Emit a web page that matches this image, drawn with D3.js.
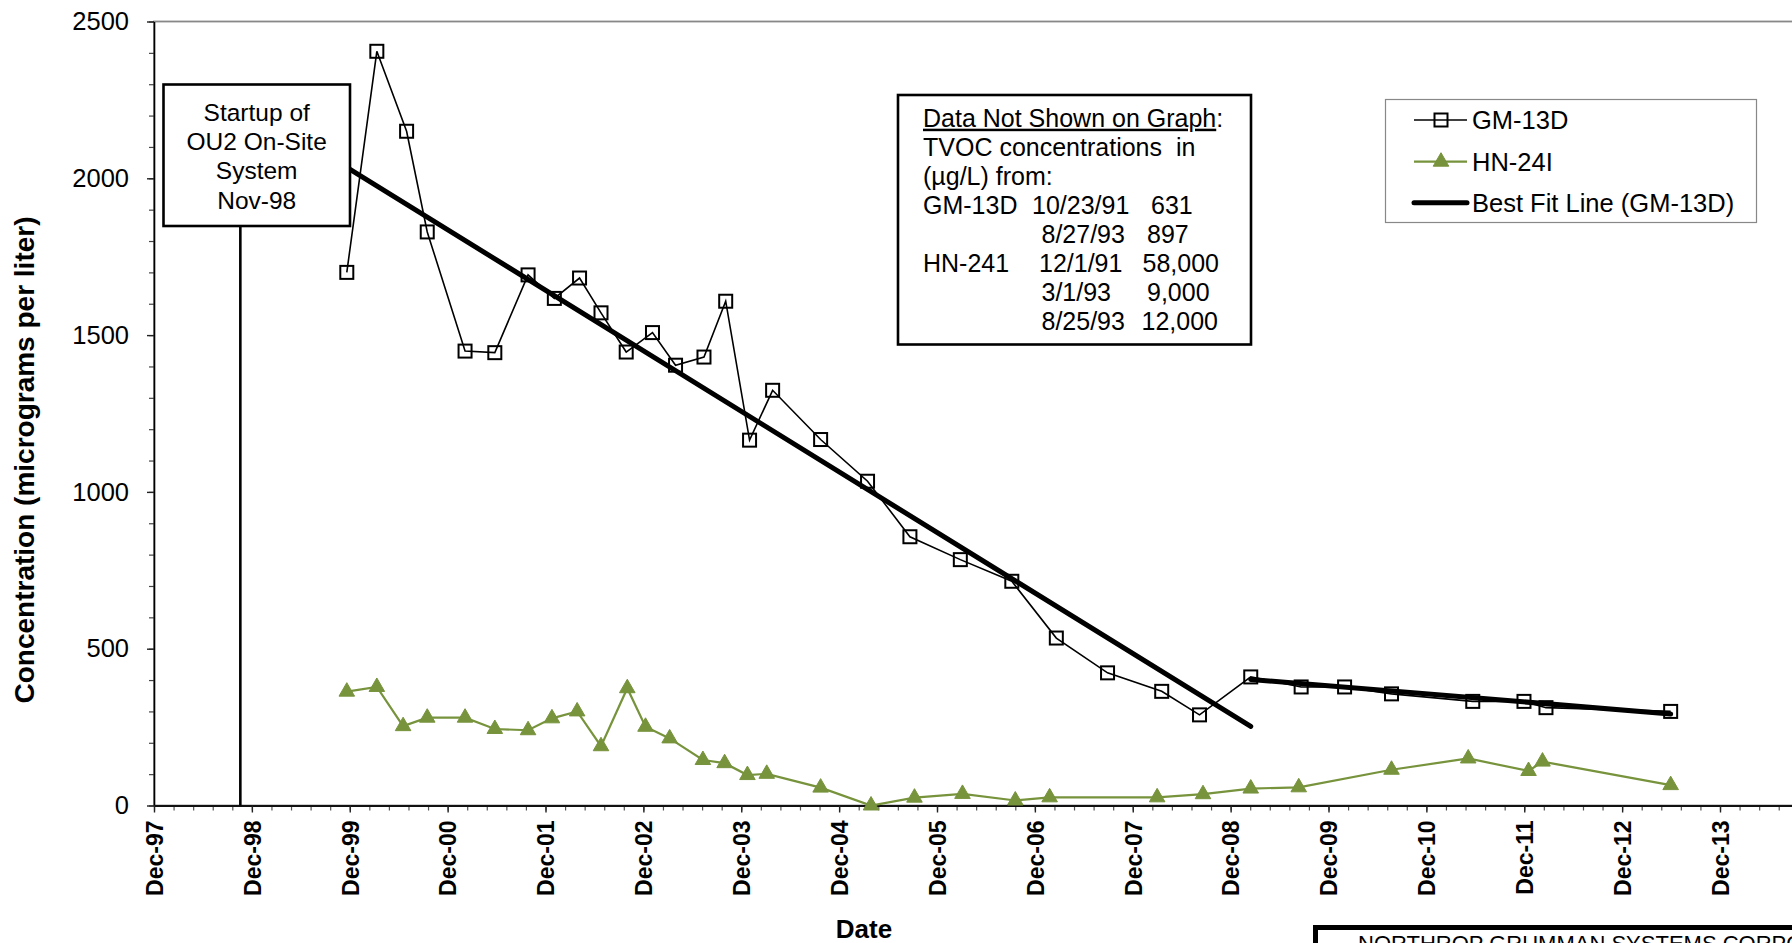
<!DOCTYPE html>
<html>
<head>
<meta charset="utf-8">
<script src="https://cdn.jsdelivr.net/npm/d3@7"></script>
<style>
  html, body { margin: 0; padding: 0; background: #fff; }
  svg { display: block; font-family: "Liberation Sans", Arial, sans-serif; }
</style>
</head>
<body>
<svg id="chart" width="1792" height="943"></svg>
<script>
// GM-13D sampling dates and TVOC concentrations (µg/L)
const gmDates = ["1999-12-04","2000-03-25","2000-07-14","2000-09-29","2001-02-17","2001-06-08","2001-10-10","2002-01-16","2002-04-20","2002-07-09","2002-10-11","2003-01-17","2003-04-13","2003-07-28","2003-10-17","2004-01-14","2004-04-09","2004-10-05","2005-03-29","2005-09-03","2006-03-10","2006-09-18","2007-03-03","2007-09-10","2008-03-30","2008-08-18","2009-02-25","2009-09-01","2010-02-10","2010-08-04","2011-06-03","2011-12-11","2012-03-02","2013-06-10"];
const gmValues = [1700, 2405, 2150, 1829, 1449, 1444, 1692, 1617, 1682, 1571, 1446, 1508, 1404, 1430, 1608, 1165, 1324, 1167, 1034, 857, 784, 715, 534, 423, 364, 289, 410, 378, 378, 356, 332, 332, 312, 300];

// HN-24I sampling dates and TVOC concentrations (µg/L)
const hnDates = ["1999-12-04","2000-03-25","2000-07-01","2000-09-29","2001-02-17","2001-06-08","2001-10-10","2002-01-07","2002-04-11","2002-07-09","2002-10-15","2002-12-22","2003-03-22","2003-07-24","2003-10-13","2004-01-06","2004-03-18","2004-10-05","2005-04-11","2005-09-20","2006-03-18","2006-10-01","2007-02-06","2008-03-13","2008-08-31","2009-02-25","2009-08-23","2010-08-04","2011-05-17","2011-12-28","2012-02-18","2013-06-10"];
const hnValues = [363, 378, 253, 280, 280, 244, 240, 278, 300, 189, 374, 251, 214, 145, 135, 97, 101, 57, 0, 25, 37, 16, 26, 26, 36, 54, 58, 114, 150, 110, 140, 65];

// Best-fit lines for GM-13D (two periods)
const fitADates = ["1999-12-04", "2009-02-25"];
const fitAValues = [2035, 252];
const fitBDates = ["2009-02-25", "2013-06-10"];
const fitBValues = [402, 292];

// Start-up of the OU2 on-site system
const startupDate = "1998-11-02";

// Axis ticks
const yMajorTicks = [0, 500, 1000, 1500, 2000, 2500];
const axisStart = "1997-12-15";
const majorStepDays = 365;
const minorStepDays = 73;
const majorTickCount = 17;

// Note box lines: [left column, date, value]
const noteRows = [
  ["GM-13D", "10/23/91", "631"],
  ["", "8/27/93", "897"],
  ["HN-241", "12/1/91", "58,000"],
  ["", "3/1/93", "9,000"],
  ["", "8/25/93", "12,000"]
];

const legendLabels = ["GM-13D", "HN-24I", "Best Fit Line (GM-13D)"];

const parse = d3.timeParse("%Y-%m-%d");
const green = "#77933C";

const svg = d3.select("#chart");
const margin = { left: 154, top: 21.5, bottom: 805.5 };
const t0 = parse(axisStart);
const pxPerDay = (1720 - 154) / (16 * 365);
const tEnd = d3.timeDay.offset(t0, majorTickCount * majorStepDays);

const x = d3.scaleTime()
  .domain([t0, tEnd])
  .range([margin.left, margin.left + majorTickCount * majorStepDays * pxPerDay]);
const y = d3.scaleLinear().domain([0, 2500]).range([margin.bottom, margin.top]);

const majorDates = d3.range(0, majorTickCount).map(k => d3.timeDay.offset(t0, k * majorStepDays));
const minorDates = d3.range(0, majorTickCount * 5 + 1).map(k => d3.timeDay.offset(t0, k * minorStepDays));

// Plot area border
svg.append("rect")
  .attr("x", x.range()[0]).attr("y", y(2500))
  .attr("width", x.range()[1] - x.range()[0])
  .attr("height", y(0) - y(2500))
  .attr("fill", "none").attr("stroke", "#888").attr("stroke-width", 1.8);

// Y axis: minor then major ticks
const gyMinor = svg.append("g").attr("transform", `translate(${margin.left},0)`)
  .call(d3.axisLeft(y).tickValues(d3.range(0, 2501, 100)).tickSize(5).tickSizeOuter(0).tickFormat(""));
gyMinor.select(".domain").remove();
gyMinor.selectAll("line").attr("stroke", "#444").attr("stroke-width", 1.2);

const gy = svg.append("g").attr("transform", `translate(${margin.left},0)`)
  .call(d3.axisLeft(y).tickValues(yMajorTicks).tickSize(7).tickSizeOuter(0).tickPadding(18).tickFormat(d3.format("d")));
gy.select(".domain").attr("stroke", "#000").attr("stroke-width", 1.6);
gy.selectAll("line").attr("stroke", "#222").attr("stroke-width", 1.4);
gy.selectAll("text").attr("font-size", 25.5).attr("fill", "#000")
  .attr("font-family", "'Liberation Sans', Arial, sans-serif");

// X axis: minor then major ticks
const gxMinor = svg.append("g").attr("transform", `translate(0,${margin.bottom})`)
  .call(d3.axisBottom(x).tickValues(minorDates).tickSize(5).tickSizeOuter(0).tickFormat(""));
gxMinor.select(".domain").remove();
gxMinor.selectAll("line").attr("stroke", "#555").attr("stroke-width", 1.2);

const gx = svg.append("g").attr("transform", `translate(0,${margin.bottom})`)
  .call(d3.axisBottom(x).tickValues(majorDates).tickSize(7).tickSizeOuter(0).tickFormat(d3.timeFormat("%b-%y")));
gx.select(".domain").attr("stroke", "#111").attr("stroke-width", 2);
gx.selectAll("line").attr("stroke", "#222").attr("stroke-width", 1.4);
gx.selectAll("text")
  .attr("font-size", 23).attr("font-weight", "bold").attr("fill", "#000")
  .attr("font-family", "'Liberation Sans', Arial, sans-serif")
  .attr("text-anchor", "end")
  .attr("transform", "translate(0,15) rotate(-90)")
  .attr("x", 0).attr("y", 0).attr("dy", "0.36em");

// Axis titles
svg.append("text")
  .attr("transform", `translate(34,${460}) rotate(-90)`)
  .attr("text-anchor", "middle")
  .attr("font-size", 28).attr("font-weight", "bold")
  .text("Concentration (micrograms per liter)");

svg.append("text")
  .attr("x", 864).attr("y", 938)
  .attr("text-anchor", "middle")
  .attr("font-size", 26).attr("font-weight", "bold")
  .text("Date");

// Series
const gmData = gmDates.map((d, i) => ({ date: parse(d), value: gmValues[i] }));
const hnData = hnDates.map((d, i) => ({ date: parse(d), value: hnValues[i] }));
const fitA = fitADates.map((d, i) => ({ date: parse(d), value: fitAValues[i] }));
const fitB = fitBDates.map((d, i) => ({ date: parse(d), value: fitBValues[i] }));

const line = d3.line().x(d => x(d.date)).y(d => y(d.value));

svg.append("path").datum(hnData)
  .attr("d", line).attr("fill", "none")
  .attr("stroke", green).attr("stroke-width", 2.2);

svg.append("path").datum(gmData)
  .attr("d", line).attr("fill", "none")
  .attr("stroke", "#000").attr("stroke-width", 1.6);

[fitA, fitB].forEach(seg => {
  svg.append("path").datum(seg)
    .attr("d", line).attr("fill", "none")
    .attr("stroke", "#000").attr("stroke-width", 5)
    .attr("stroke-linecap", "round");
});

const sq = 13;
svg.append("g").selectAll("rect").data(gmData).join("rect")
  .attr("x", d => x(d.date) - sq / 2).attr("y", d => y(d.value) - sq / 2)
  .attr("width", sq).attr("height", sq)
  .attr("fill", "none").attr("stroke", "#000").attr("stroke-width", 2);

const tri = d3.symbol().type(d3.symbolTriangle).size(105);
svg.append("g").selectAll("path").data(hnData).join("path")
  .attr("transform", d => `translate(${x(d.date)},${y(d.value)})`)
  .attr("d", tri)
  .attr("fill", green).attr("stroke", green).attr("stroke-width", 1);

// Start-up marker line and label box
svg.append("line")
  .attr("x1", x(parse(startupDate))).attr("x2", x(parse(startupDate)))
  .attr("y1", y(0)).attr("y2", 226)
  .attr("stroke", "#000").attr("stroke-width", 2.6);

svg.append("rect")
  .attr("x", 163.5).attr("y", 84.5).attr("width", 186.5).attr("height", 141.5)
  .attr("fill", "#fff").attr("stroke", "#000").attr("stroke-width", 2.6);
["Startup of", "OU2 On-Site", "System", "Nov-98"].forEach((s, i) => {
  svg.append("text")
    .attr("x", 256.7).attr("y", 120.7 + i * 29.3)
    .attr("text-anchor", "middle").attr("font-size", 24.5)
    .text(s);
});

// Note box: data not shown on the graph
svg.append("rect")
  .attr("x", 898).attr("y", 95).attr("width", 353).attr("height", 249.5)
  .attr("fill", "#fff").attr("stroke", "#000").attr("stroke-width", 2.6);
const noteX = 923, noteY0 = 126.7, noteDy = 29.05;
const head = svg.append("text").attr("x", noteX).attr("y", noteY0).attr("font-size", 25);
head.append("tspan").attr("text-decoration", "underline").text("Data Not Shown on Graph");
head.append("tspan").text(":");
svg.append("text").attr("x", noteX).attr("y", noteY0 + noteDy).attr("font-size", 25)
  .attr("xml:space", "preserve").style("white-space", "pre")
  .text("TVOC concentrations  in");
svg.append("text").attr("x", noteX).attr("y", noteY0 + 2 * noteDy).attr("font-size", 25)
  .text("(µg/L) from:");
const col2 = [1032, 1041.5, 1039, 1041.5, 1041.5];
const col3 = [1151, 1147, 1142.5, 1147, 1141.5];
noteRows.forEach((r, i) => {
  const yy = noteY0 + (3 + i) * noteDy;
  svg.append("text").attr("x", noteX).attr("y", yy).attr("font-size", 25).text(r[0]);
  svg.append("text").attr("x", col2[i]).attr("y", yy).attr("font-size", 25).text(r[1]);
  svg.append("text").attr("x", col3[i]).attr("y", yy).attr("font-size", 25).text(r[2]);
});

// Legend
svg.append("rect")
  .attr("x", 1385.5).attr("y", 99.5).attr("width", 371).attr("height", 123)
  .attr("fill", "#fff").attr("stroke", "#888").attr("stroke-width", 1.2);
const legRows = [120, 161.7, 202.7];
const lx1 = 1414, lx2 = 1467, lmx = 1441;
const lg = svg.append("g");
lg.append("line").attr("x1", lx1).attr("x2", lx2).attr("y1", legRows[0]).attr("y2", legRows[0])
  .attr("stroke", "#000").attr("stroke-width", 1.6);
lg.append("rect").attr("x", lmx - 6.5).attr("y", legRows[0] - 6.5).attr("width", 13).attr("height", 13)
  .attr("fill", "none").attr("stroke", "#000").attr("stroke-width", 2);
lg.append("line").attr("x1", lx1).attr("x2", lx2).attr("y1", legRows[1]).attr("y2", legRows[1])
  .attr("stroke", green).attr("stroke-width", 2.2);
lg.append("path").attr("transform", `translate(${lmx},${legRows[1]})`).attr("d", tri)
  .attr("fill", green).attr("stroke", green);
lg.append("line").attr("x1", lx1).attr("x2", lx2).attr("y1", legRows[2]).attr("y2", legRows[2])
  .attr("stroke", "#000").attr("stroke-width", 5).attr("stroke-linecap", "round");
legendLabels.forEach((s, i) => {
  lg.append("text").attr("x", 1472).attr("y", legRows[i]).attr("dy", "0.36em")
    .attr("font-size", 25.5).text(s);
});

// Title block at the lower right
svg.append("rect")
  .attr("x", 1315.5).attr("y", 927.5).attr("width", 600).attr("height", 100)
  .attr("fill", "#fff").attr("stroke", "#000").attr("stroke-width", 5);
svg.append("text")
  .attr("x", 1358).attr("y", 951).attr("font-size", 22)
  .text("NORTHROP GRUMMAN SYSTEMS CORPORATION");
</script>
</body>
</html>
